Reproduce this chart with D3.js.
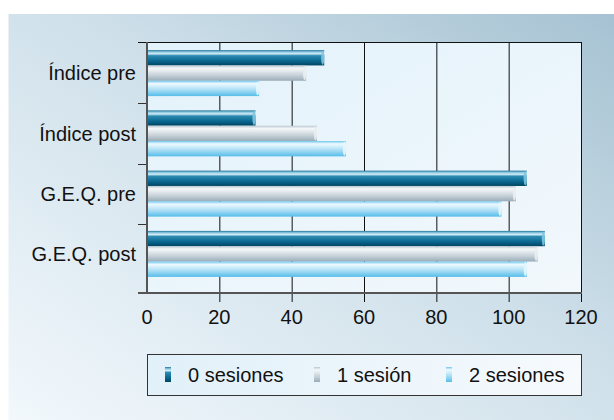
<!DOCTYPE html>
<html>
<head>
<meta charset="utf-8">
<script src="https://cdn.jsdelivr.net/npm/d3@7"></script>
<style>
  body { margin: 0; background: #fff; }
  text { font-family: "Liberation Sans", Arial, sans-serif; fill: #111; }
</style>
</head>
<body>
<div id="chart"></div>
<script>
// data
var categories = ["Índice pre", "Índice post", "G.E.Q. pre", "G.E.Q. post"];
var seriesNames = ["0 sesiones", "1 sesión", "2 sesiones"];
var sesiones0 = [49, 30, 105, 110];
var sesiones1 = [44, 47, 102, 108];
var sesiones2 = [31, 55, 98, 105];
var xTicks = [0, 20, 40, 60, 80, 100, 120];

var seriesValues = [sesiones0, sesiones1, sesiones2];

var W = 614, H = 420;
var plot = {left: 147, right: 581, top: 42, bottom: 293};

var svg = d3.select("#chart").append("svg")
    .attr("width", W)
    .attr("height", H);

var defs = svg.append("defs");

// background gradient (light bottom-left to darker top-right)
var bg = defs.append("linearGradient").attr("id", "bg")
    .attr("x1", "0%").attr("y1", "100%").attr("x2", "100%").attr("y2", "0%");
bg.append("stop").attr("offset", "0%").attr("stop-color", "#f2f8fc");
bg.append("stop").attr("offset", "55%").attr("stop-color", "#cfe0ea");
bg.append("stop").attr("offset", "100%").attr("stop-color", "#a6c2d2");

var pg = defs.append("linearGradient").attr("id", "plotbg")
    .attr("x1", "0%").attr("y1", "0%").attr("x2", "100%").attr("y2", "100%");
pg.append("stop").attr("offset", "0%").attr("stop-color", "#e3f2fb");
pg.append("stop").attr("offset", "100%").attr("stop-color", "#f2f8fc");

var lg = defs.append("linearGradient").attr("id", "legbg")
    .attr("x1", "0%").attr("y1", "0%").attr("x2", "100%").attr("y2", "0%");
lg.append("stop").attr("offset", "0%").attr("stop-color", "#e1f0f9");
lg.append("stop").attr("offset", "100%").attr("stop-color", "#f6fafd");

// cylinder-like bar gradients
var barStops = [
  [["0%", "#1d7398"], ["12%", "#8cc8e0"], ["24%", "#d2ecf7"], ["36%", "#2e8cb3"], ["70%", "#0a6890"], ["100%", "#004462"]],
  [["0%", "#b9c7d0"], ["18%", "#f4f7f9"], ["32%", "#e8edf0"], ["65%", "#c5d0d7"], ["100%", "#9aacb8"]],
  [["0%", "#6cc7ee"], ["18%", "#eef9fe"], ["32%", "#d8f1fc"], ["65%", "#9fd9f3"], ["100%", "#55bde9"]]
];
barStops.forEach(function(stops, i) {
  var g = defs.append("linearGradient").attr("id", "bar" + i)
      .attr("x1", "0%").attr("y1", "0%").attr("x2", "0%").attr("y2", "100%");
  stops.forEach(function(s) {
    g.append("stop").attr("offset", s[0]).attr("stop-color", s[1]);
  });
});

svg.append("rect")
    .attr("x", 8.5).attr("y", 14)
    .attr("width", W - 8.5).attr("height", H - 14)
    .attr("fill", "url(#bg)");

// scales
var x = d3.scaleLinear()
    .domain([0, 120])
    .range([plot.left, plot.right]);

var y = d3.scaleBand()
    .domain(categories)
    .range([43, 284])
    .paddingInner(0.237)
    .paddingOuter(0.118);

var ySub = d3.scaleBand()
    .domain(d3.range(seriesNames.length))
    .range([0, y.bandwidth()]);

svg.append("rect")
    .attr("x", plot.left).attr("y", plot.top)
    .attr("width", plot.right - plot.left).attr("height", plot.bottom - plot.top)
    .attr("fill", "url(#plotbg)");

// vertical grid lines (extend below axis as ticks)
svg.append("g")
  .selectAll("line")
  .data(xTicks.slice(1))
  .enter()
  .append("line")
    .attr("x1", function(d){ return x(d) + 0.5 })
    .attr("x2", function(d){ return x(d) + 0.5 })
    .attr("y1", plot.top)
    .attr("y2", plot.bottom + 9)
    .attr("stroke", "#111")
    .attr("stroke-width", 1);

// top frame line
svg.append("line")
    .attr("x1", plot.left - 9).attr("x2", plot.right + 1)
    .attr("y1", plot.top + 0.5).attr("y2", plot.top + 0.5)
    .attr("stroke", "#111");

// bars
var groups = svg.append("g")
  .selectAll("g")
  .data(categories)
  .enter()
  .append("g")
    .attr("transform", function(d){ return "translate(0," + y(d) + ")" });

groups.selectAll("rect")
  .data(function(d, ci){ return seriesValues.map(function(v, si){ return {s: si, v: v[ci]} }) })
  .enter()
  .append("rect")
    .attr("x", x(0))
    .attr("y", function(d){ return ySub(d.s) })
    .attr("width", function(d){ return x(d.v) - x(0) })
    .attr("height", ySub.bandwidth())
    .attr("fill", function(d){ return "url(#bar" + d.s + ")" });

// light end caps
groups.selectAll("ellipse")
  .data(function(d, ci){ return seriesValues.map(function(v, si){ return {s: si, v: v[ci]} }) })
  .enter()
  .append("ellipse")
    .attr("cx", function(d){ return x(d.v) - 1.5 })
    .attr("cy", function(d){ return ySub(d.s) + ySub.bandwidth() / 2 })
    .attr("rx", 1.6)
    .attr("ry", ySub.bandwidth() / 2 - 0.5)
    .attr("fill", function(d){ return ["#7fc4df", "#e9eef1", "#e6f6fd"][d.s] })
    .attr("opacity", 0.9);

// left axis with ticks between groups
var yTickPos = categories.slice(1).map(function(c){ return y(c) - y.step() * y.paddingInner() / 2 });
svg.append("g")
  .selectAll("line")
  .data(yTickPos)
  .enter()
  .append("line")
    .attr("x1", plot.left - 9).attr("x2", plot.left)
    .attr("y1", function(d){ return Math.round(d) + 0.5 })
    .attr("y2", function(d){ return Math.round(d) + 0.5 })
    .attr("stroke", "#333");

svg.append("line")
    .attr("x1", plot.left).attr("x2", plot.left)
    .attr("y1", plot.top).attr("y2", plot.bottom + 1)
    .attr("stroke", "#555").attr("stroke-width", 2);

// bottom axis
svg.append("line")
    .attr("x1", plot.left - 9).attr("x2", plot.right + 1)
    .attr("y1", plot.bottom).attr("y2", plot.bottom)
    .attr("stroke", "#555").attr("stroke-width", 2);

svg.append("g")
  .selectAll("text")
  .data(xTicks)
  .enter()
  .append("text")
    .attr("x", function(d){ return x(d) })
    .attr("y", 324)
    .attr("text-anchor", "middle")
    .style("font-size", "20px")
    .text(function(d){ return d });

// category labels
svg.append("g")
  .selectAll("text")
  .data(categories)
  .enter()
  .append("text")
    .attr("x", 136)
    .attr("y", function(d){ return y(d) + y.bandwidth() / 2 })
    .attr("dy", "0.36em")
    .attr("text-anchor", "end")
    .style("font-size", "20px")
    .text(function(d){ return d });

// legend
svg.append("rect")
    .attr("x", 147.5).attr("y", 354.5)
    .attr("width", 434).attr("height", 41)
    .attr("fill", "url(#legbg)")
    .attr("stroke", "#333");

var legX = [165, 314, 446];
var leg = svg.append("g")
  .selectAll("g")
  .data(seriesNames)
  .enter()
  .append("g")
    .attr("transform", function(d, i){ return "translate(" + legX[i] + ",0)" });

leg.append("rect")
    .attr("x", 0).attr("y", 367)
    .attr("width", 6).attr("height", 15)
    .attr("fill", function(d, i){ return "url(#bar" + i + ")" });

leg.append("text")
    .attr("x", 23)
    .attr("y", 382)
    .style("font-size", "20px")
    .text(function(d){ return d });
</script>
</body>
</html>
